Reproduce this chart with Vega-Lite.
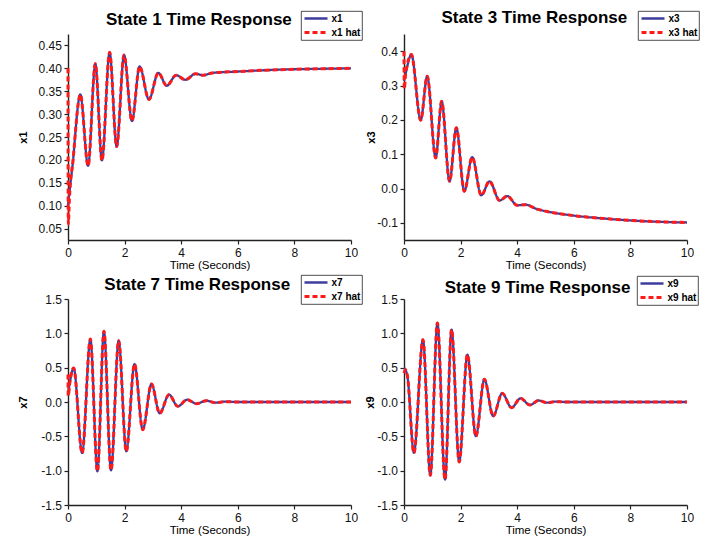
{
  "$schema": "https://vega.github.io/schema/vega-lite/v6.json",
  "background": "white",
  "padding": {"left": 17, "top": 9, "right": 5, "bottom": 0},
  "columns": 2,
  "spacing": {"row": 59, "column": 53},
  "bounds": "flush",
  "resolve": {
    "scale": {"color": "independent", "strokeDash": "independent", "strokeWidth": "independent", "x": "independent", "y": "independent"},
    "legend": {"color": "independent", "strokeDash": "independent", "strokeWidth": "independent"}
  },
  "config": {
    "font": "Liberation Sans",
    "view": {"stroke": null},
    "locale": {"number": {"decimal": ".", "thousands": ",", "grouping": [3], "currency": ["$", ""], "minus": "-"}},
    "axis": {
      "grid": false,
      "domainColor": "#222222",
      "domainWidth": 1.4,
      "tickColor": "#222222",
      "tickSize": 4,
      "tickWidth": 1.2,
      "labelFont": "Liberation Sans",
      "labelFontSize": 12,
      "labelColor": "#111111",
      "labelPadding": 2.6,
      "labelFlush": false,
      "titleFont": "Liberation Sans",
      "titleColor": "#000000"
    },
    "axisX": {"labelPadding": 3, "titleFontSize": 11.5, "titleFontWeight": "normal", "titleY": 28.5, "titleBaseline": "alphabetic"},
    "axisY": {"titleFontSize": 11, "titleFontWeight": "bold", "titleBaseline": "alphabetic"},
    "legend": {
      "orient": "none",
      "strokeColor": "#222222",
      "strokeWidth": 0.8,
      "fillColor": "white",
      "padding": 1.5,
      "symbolType": "stroke",
      "symbolSize": 530,
      "labelFont": "Liberation Sans",
      "labelFontSize": 10,
      "labelFontWeight": "bold",
      "labelColor": "#000000",
      "rowPadding": 2,
      "labelOffset": 2,
      "clipHeight": 12
    },
    "title": {"font": "Liberation Sans", "fontSize": 17, "fontWeight": "bold", "color": "#000000", "anchor": "start", "frame": "group", "baseline": "alphabetic"},
    "line": {"interpolate": "monotone", "strokeCap": "butt"}
  },
  "concat": [
    {
      "width": 283, "height": 206,
      "title": {"text": "State 1 Time Response", "dx": 38, "offset": -18},
      "data": {"values": [
        {"t": 0, "x1": 0.100, "x1 hat": 0.400},
        {"t": 0.01, "x1 hat": 0.060},
        {"t": 0.05, "x1 hat": 0.115},
        {"t": 0.08, "x1": 0.145, "x1 hat": 0.145},
        {"t": 0.18, "x1": 0.200, "x1 hat": 0.200},
        {"t": 0.27, "x1": 0.266, "x1 hat": 0.266},
        {"t": 0.35, "x1": 0.318, "x1 hat": 0.318},
        {"t": 0.435, "x1": 0.343, "x1 hat": 0.343},
        {"t": 0.71, "x1": 0.187, "x1 hat": 0.187},
        {"t": 0.965, "x1": 0.410, "x1 hat": 0.410},
        {"t": 1.2, "x1": 0.199, "x1 hat": 0.199},
        {"t": 1.47, "x1": 0.435, "x1 hat": 0.435},
        {"t": 1.72, "x1": 0.229, "x1 hat": 0.229},
        {"t": 1.98, "x1": 0.429, "x1 hat": 0.429},
        {"t": 2.26, "x1": 0.285, "x1 hat": 0.285},
        {"t": 2.53, "x1": 0.404, "x1 hat": 0.404},
        {"t": 2.86, "x1": 0.332, "x1 hat": 0.332},
        {"t": 3.19, "x1": 0.390, "x1 hat": 0.390},
        {"t": 3.49, "x1": 0.362, "x1 hat": 0.362},
        {"t": 3.82, "x1": 0.385, "x1 hat": 0.385},
        {"t": 4.15, "x1": 0.375, "x1 hat": 0.375},
        {"t": 4.5, "x1": 0.388, "x1 hat": 0.388},
        {"t": 4.78, "x1": 0.385, "x1 hat": 0.385},
        {"t": 5.1, "x1": 0.390, "x1 hat": 0.390},
        {"t": 6, "x1": 0.393, "x1 hat": 0.393},
        {"t": 7, "x1": 0.396, "x1 hat": 0.396},
        {"t": 8, "x1": 0.398, "x1 hat": 0.398},
        {"t": 9, "x1": 0.399, "x1 hat": 0.399},
        {"t": 10, "x1": 0.400, "x1 hat": 0.400}
      ]},
      "transform": [{"fold": ["x1", "x1 hat"], "as": ["series", "value"]}, {"filter": "isValid(datum.value)"}],
      "mark": {"type": "line"},
      "encoding": {
        "x": {"field": "t", "type": "quantitative", "scale": {"domain": [0, 10], "nice": false}, "axis": {"values": [0, 2, 4, 6, 8, 10], "title": "Time (Seconds)"}},
        "y": {"field": "value", "type": "quantitative", "scale": {"domain": [0.025, 0.475], "nice": false, "zero": false}, "axis": {"values": [0.05, 0.1, 0.15, 0.2, 0.25, 0.3, 0.35, 0.4, 0.45], "format": ".2f", "title": "x1", "titleX": -41.6}},
        "color": {"field": "series", "type": "nominal", "scale": {"domain": ["x1", "x1 hat"], "range": ["#3d3d9d", "#ff1a1a"]}, "legend": {"title": null, "legendX": 233, "legendY": -23}},
        "strokeDash": {"field": "series", "type": "nominal", "scale": {"domain": ["x1", "x1 hat"], "range": [[1, 0], [5, 3]]}, "legend": {"title": null, "legendX": 233, "legendY": -23}},
        "strokeWidth": {"field": "series", "type": "nominal", "scale": {"domain": ["x1", "x1 hat"], "range": [2.3, 3]}, "legend": {"title": null, "legendX": 233, "legendY": -23}}
      }
    },
    {
      "width": 283, "height": 206,
      "title": {"text": "State 3 Time Response", "dx": 37.4, "offset": -16.7},
      "data": {"values": [
        {"t": 0, "x3": 0.313, "x3 hat": 0.400},
        {"t": 0.01, "x3 hat": 0.290},
        {"t": 0.06, "x3": 0.335, "x3 hat": 0.335},
        {"t": 0.26, "x3": 0.390, "x3 hat": 0.390},
        {"t": 0.59, "x3": 0.199, "x3 hat": 0.199},
        {"t": 0.82, "x3": 0.327, "x3 hat": 0.327},
        {"t": 1.12, "x3": 0.089, "x3 hat": 0.089},
        {"t": 1.33, "x3": 0.254, "x3 hat": 0.254},
        {"t": 1.61, "x3": 0.021, "x3 hat": 0.021},
        {"t": 1.85, "x3": 0.177, "x3 hat": 0.177},
        {"t": 2.13, "x3": -0.008, "x3 hat": -0.008},
        {"t": 2.41, "x3": 0.091, "x3 hat": 0.091},
        {"t": 2.73, "x3": -0.020, "x3 hat": -0.020},
        {"t": 3.02, "x3": 0.021, "x3 hat": 0.021},
        {"t": 3.38, "x3": -0.035, "x3 hat": -0.035},
        {"t": 3.65, "x3": -0.022, "x3 hat": -0.022},
        {"t": 4.0, "x3": -0.049, "x3 hat": -0.049},
        {"t": 4.29, "x3": -0.047, "x3 hat": -0.047},
        {"t": 4.7, "x3": -0.060, "x3 hat": -0.060},
        {"t": 5.06, "x3": -0.067, "x3 hat": -0.067},
        {"t": 6, "x3": -0.079, "x3 hat": -0.079},
        {"t": 7, "x3": -0.087, "x3 hat": -0.087},
        {"t": 8, "x3": -0.093, "x3 hat": -0.093},
        {"t": 9, "x3": -0.097, "x3 hat": -0.097},
        {"t": 10, "x3": -0.099, "x3 hat": -0.099}
      ]},
      "transform": [{"fold": ["x3", "x3 hat"], "as": ["series", "value"]}, {"filter": "isValid(datum.value)"}],
      "mark": {"type": "line"},
      "encoding": {
        "x": {"field": "t", "type": "quantitative", "scale": {"domain": [0, 10], "nice": false}, "axis": {"values": [0, 2, 4, 6, 8, 10], "title": "Time (Seconds)"}},
        "y": {"field": "value", "type": "quantitative", "scale": {"domain": [-0.15, 0.45], "nice": false, "zero": false}, "axis": {"values": [-0.1, 0, 0.1, 0.2, 0.3, 0.4], "format": ".1f", "title": "x3", "titleX": -29.3}},
        "color": {"field": "series", "type": "nominal", "scale": {"domain": ["x3", "x3 hat"], "range": ["#3d3d9d", "#ff1a1a"]}, "legend": {"title": null, "legendX": 234, "legendY": -23}},
        "strokeDash": {"field": "series", "type": "nominal", "scale": {"domain": ["x3", "x3 hat"], "range": [[1, 0], [5, 3]]}, "legend": {"title": null, "legendX": 234, "legendY": -23}},
        "strokeWidth": {"field": "series", "type": "nominal", "scale": {"domain": ["x3", "x3 hat"], "range": [2.3, 3]}, "legend": {"title": null, "legendX": 234, "legendY": -23}}
      }
    },
    {
      "width": 283, "height": 206,
      "title": {"text": "State 7 Time Response", "dx": 36.3, "offset": -19},
      "data": {"values": [
        {"t": 0, "x7": 0.107, "x7 hat": 0.400},
        {"t": 0.01, "x7 hat": 0.090},
        {"t": 0.06, "x7": 0.270, "x7 hat": 0.270},
        {"t": 0.2, "x7": 0.495, "x7 hat": 0.495},
        {"t": 0.5, "x7": -0.743, "x7 hat": -0.743},
        {"t": 0.79, "x7": 0.917, "x7 hat": 0.917},
        {"t": 1.04, "x7": -1.010, "x7 hat": -1.010},
        {"t": 1.27, "x7": 1.030, "x7 hat": 1.030},
        {"t": 1.52, "x7": -0.995, "x7 hat": -0.995},
        {"t": 1.79, "x7": 0.893, "x7 hat": 0.893},
        {"t": 2.06, "x7": -0.718, "x7 hat": -0.718},
        {"t": 2.35, "x7": 0.553, "x7 hat": 0.553},
        {"t": 2.64, "x7": -0.403, "x7 hat": -0.403},
        {"t": 2.95, "x7": 0.262, "x7 hat": 0.262},
        {"t": 3.24, "x7": -0.165, "x7 hat": -0.165},
        {"t": 3.57, "x7": 0.107, "x7 hat": 0.107},
        {"t": 3.88, "x7": -0.063, "x7 hat": -0.063},
        {"t": 4.21, "x7": 0.034, "x7 hat": 0.034},
        {"t": 4.54, "x7": -0.024, "x7 hat": -0.024},
        {"t": 4.89, "x7": 0.019, "x7 hat": 0.019},
        {"t": 5.2, "x7": -0.010, "x7 hat": -0.010},
        {"t": 5.55, "x7": 0.005, "x7 hat": 0.005},
        {"t": 6, "x7": 0, "x7 hat": 0},
        {"t": 8, "x7": 0, "x7 hat": 0},
        {"t": 10, "x7": 0, "x7 hat": 0}
      ]},
      "transform": [{"fold": ["x7", "x7 hat"], "as": ["series", "value"]}, {"filter": "isValid(datum.value)"}],
      "mark": {"type": "line"},
      "encoding": {
        "x": {"field": "t", "type": "quantitative", "scale": {"domain": [0, 10], "nice": false}, "axis": {"values": [0, 2, 4, 6, 8, 10], "title": "Time (Seconds)"}},
        "y": {"field": "value", "type": "quantitative", "scale": {"domain": [-1.5, 1.5], "nice": false}, "axis": {"values": [-1.5, -1, -0.5, 0, 0.5, 1, 1.5], "format": ".1f", "title": "x7", "titleX": -41.7}},
        "color": {"field": "series", "type": "nominal", "scale": {"domain": ["x7", "x7 hat"], "range": ["#3d3d9d", "#ff1a1a"]}, "legend": {"title": null, "legendX": 233, "legendY": -24}},
        "strokeDash": {"field": "series", "type": "nominal", "scale": {"domain": ["x7", "x7 hat"], "range": [[1, 0], [5, 3]]}, "legend": {"title": null, "legendX": 233, "legendY": -24}},
        "strokeWidth": {"field": "series", "type": "nominal", "scale": {"domain": ["x7", "x7 hat"], "range": [2.3, 3]}, "legend": {"title": null, "legendX": 233, "legendY": -24}}
      }
    },
    {
      "width": 283, "height": 206,
      "title": {"text": "State 9 Time Response", "dx": 40.7, "offset": -21.7},
      "data": {"values": [
        {"t": 0, "x9": 0.500, "x9 hat": 0.420},
        {"t": 0.05, "x9": 0.470, "x9 hat": 0.470},
        {"t": 0.12, "x9": 0.380, "x9 hat": 0.380},
        {"t": 0.35, "x9": -0.741, "x9 hat": -0.741},
        {"t": 0.67, "x9": 0.907, "x9 hat": 0.907},
        {"t": 0.93, "x9": -1.068, "x9 hat": -1.068},
        {"t": 1.18, "x9": 1.151, "x9 hat": 1.151},
        {"t": 1.45, "x9": -1.130, "x9 hat": -1.130},
        {"t": 1.68, "x9": 1.054, "x9 hat": 1.054},
        {"t": 1.95, "x9": -0.873, "x9 hat": -0.873},
        {"t": 2.24, "x9": 0.688, "x9 hat": 0.688},
        {"t": 2.54, "x9": -0.498, "x9 hat": -0.498},
        {"t": 2.84, "x9": 0.332, "x9 hat": 0.332},
        {"t": 3.15, "x9": -0.205, "x9 hat": -0.205},
        {"t": 3.47, "x9": 0.127, "x9 hat": 0.127},
        {"t": 3.8, "x9": -0.083, "x9 hat": -0.083},
        {"t": 4.12, "x9": 0.054, "x9 hat": 0.054},
        {"t": 4.45, "x9": -0.044, "x9 hat": -0.044},
        {"t": 4.76, "x9": 0.022, "x9 hat": 0.022},
        {"t": 5.05, "x9": -0.010, "x9 hat": -0.010},
        {"t": 5.35, "x9": 0.005, "x9 hat": 0.005},
        {"t": 5.7, "x9": 0, "x9 hat": 0},
        {"t": 8, "x9": 0, "x9 hat": 0},
        {"t": 10, "x9": 0, "x9 hat": 0}
      ]},
      "transform": [{"fold": ["x9", "x9 hat"], "as": ["series", "value"]}, {"filter": "isValid(datum.value)"}],
      "mark": {"type": "line"},
      "encoding": {
        "x": {"field": "t", "type": "quantitative", "scale": {"domain": [0, 10], "nice": false}, "axis": {"values": [0, 2, 4, 6, 8, 10], "title": "Time (Seconds)"}},
        "y": {"field": "value", "type": "quantitative", "scale": {"domain": [-1.5, 1.5], "nice": false}, "axis": {"values": [-1.5, -1, -0.5, 0, 0.5, 1, 1.5], "format": ".1f", "title": "x9", "titleX": -31}},
        "color": {"field": "series", "type": "nominal", "scale": {"domain": ["x9", "x9 hat"], "range": ["#3d3d9d", "#ff1a1a"]}, "legend": {"title": null, "legendX": 233, "legendY": -23}},
        "strokeDash": {"field": "series", "type": "nominal", "scale": {"domain": ["x9", "x9 hat"], "range": [[1, 0], [5, 3]]}, "legend": {"title": null, "legendX": 233, "legendY": -23}},
        "strokeWidth": {"field": "series", "type": "nominal", "scale": {"domain": ["x9", "x9 hat"], "range": [2.3, 3]}, "legend": {"title": null, "legendX": 233, "legendY": -23}}
      }
    }
  ]
}
